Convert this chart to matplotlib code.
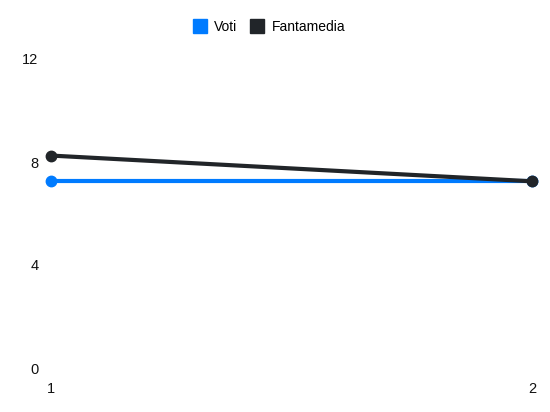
import matplotlib
matplotlib.use('Agg')
import matplotlib.pyplot as plt
from matplotlib.lines import Line2D

plt.rcParams['font.family'] = ['Liberation Sans', 'DejaVu Sans']

giornate = [1, 2]
voti = [7.25, 7.25]
fantamedia = [8.25, 7.25]

blue = '#007bff'
dark = '#212529'

fig = plt.figure(figsize=(5.5, 4.12), dpi=100)
ax = fig.add_axes([51 / 550, 1 - 368 / 412, (532 - 51) / 550, (368 - 59) / 412])

ax.plot(giornate, voti, color=blue, lw=3, marker='o', ms=7.5, clip_on=False, zorder=3)
ax.plot(giornate, fantamedia, color=dark, lw=3, marker='o', ms=7.5, clip_on=False, zorder=4)

ax.set_xlim(1, 2)
ax.set_ylim(0, 12)
ax.set_xticks(giornate)
ax.set_yticks([0, 4, 8, 12])
ax.tick_params(length=0, labelsize=10.5, colors='#111111')
ax.tick_params(axis='y', pad=9)
ax.tick_params(axis='x', pad=10)
for s in ax.spines.values():
    s.set_visible(False)

handles = [Line2D([], [], ls='none', marker='s', ms=10, color=blue),
           Line2D([], [], ls='none', marker='s', ms=10, color=dark)]
fig.legend(handles, ['Voti', 'Fantamedia'], loc='center', bbox_to_anchor=(269 / 550, 1 - 27 / 412),
           ncol=2, frameon=False, fontsize=10, handletextpad=0.55, columnspacing=0.9, handlelength=1.0)

fig.savefig('out.png', dpi=100)
